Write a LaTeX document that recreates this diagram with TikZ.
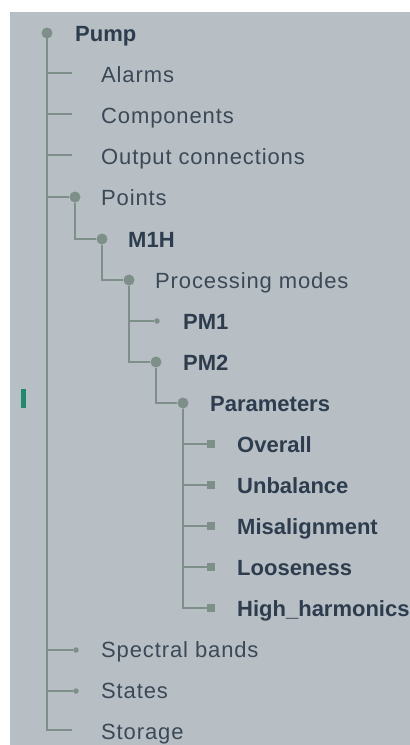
\documentclass[tikz,border=0pt]{standalone}
\usepackage{fontspec}
\setmainfont{Liberation Sans}
\newfontfamily\itemfont[LetterSpace=4]{Liberation Sans}

\definecolor{panel}{HTML}{B7BEC4}
\definecolor{branch}{HTML}{7E8E89}
\definecolor{plain}{HTML}{3B4956}
\definecolor{strong}{HTML}{2D3D4E}
\definecolor{marker}{HTML}{1F8A70}

\tikzset{
  link/.style={draw=branch, line width=1.5pt},
  bigdot/.style={circle, fill=branch, inner sep=0pt, minimum size=11pt},
  smalldot/.style={circle, fill=branch, inner sep=0pt, minimum size=5.5pt},
  sqdot/.style={rectangle, fill=branch, inner sep=0pt, minimum size=7.5pt},
  item/.style={anchor=base west, inner sep=0pt, text=plain,
    font=\itemfont\fontsize{22}{26}\selectfont},
  bolditem/.style={item, text=strong, font=\rmfamily\fontsize{22}{26}\selectfont\bfseries},
}

\begin{document}
\begin{tikzpicture}[x=1pt, y=-1pt]
        % Painel
        \useasboundingbox (0,0) rectangle (410,745);
        \fill[panel] (10,12) rectangle (410,745);
        \fill[marker] (21,389) rectangle (26,408);

        % Ramos
        \coordinate (dAlarms) at (72,73);
        \coordinate (dComponents) at (72,114);
        \coordinate (dOutput) at (72,155);
        \coordinate (dStorage) at (72,730);
        \draw[link] (47,33) coordinate (top) |- (dStorage);
        \foreach \n in {dAlarms, dComponents, dOutput}
          \draw[link] (top) |- (\n);

        % Pontos da arvore
        \node[bigdot] (dPump) at (top) {};
        \node[bigdot] (dPoints) at (75,197) {};
        \node[bigdot] (dMOneH) at (102,239) {};
        \node[bigdot] (dModes) at (129,280) {};
        \node[smalldot] (dPMOne) at (157,321) {};
        \node[bigdot] (dPMTwo) at (156,362) {};
        \node[bigdot] (dParams) at (183,403) {};
        \node[sqdot] (dOverall) at (211,444) {};
        \node[sqdot] (dUnbalance) at (211,485) {};
        \node[sqdot] (dMisalign) at (211,526) {};
        \node[sqdot] (dLoose) at (211,567) {};
        \node[sqdot] (dHigh) at (211,608) {};
        \node[smalldot] (dSpectral) at (76,650) {};
        \node[smalldot] (dStates) at (76,691) {};

        \foreach \n in {dPoints, dSpectral, dStates}
          \draw[link] (top) |- (\n);
        \draw[link] (dPoints) |- (dMOneH);
        \draw[link] (dMOneH) |- (dModes);
        \draw[link] (dModes) |- (dPMOne);
        \draw[link] (dModes) |- (dPMTwo);
        \draw[link] (dPMTwo) |- (dParams);
        \foreach \n in {dOverall, dUnbalance, dMisalign, dLoose, dHigh}
          \draw[link] (dParams) |- (\n);

        % Rotulos
        \node[bolditem] (pump) at (75,41) {Pump};
        \node[item] (alarms) at (101,82) {Alarms};
        \node[item] (components) at (101,123) {Components};
        \node[item] (output) at (101,164) {Output connections};
        \node[item] (points) at (101,205) {Points};
        \node[bolditem] (mOneH) at (128,247) {M1H};
        \node[item] (modes) at (155,288) {Processing modes};
        \node[bolditem] (pmOne) at (183,329) {PM1};
        \node[bolditem] (pmTwo) at (183,370) {PM2};
        \node[bolditem] (params) at (210,411) {Parameters};
        \node[bolditem] (overall) at (237,452) {Overall};
        \node[bolditem] (unbalance) at (237,493) {Unbalance};
        \node[bolditem] (misalign) at (237,534) {Misalignment};
        \node[bolditem] (loose) at (237,575) {Looseness};
        \node[bolditem] (high) at (237,616) {High\_harmonics};
        \node[item] (spectral) at (101,657) {Spectral bands};
        \node[item] (states) at (101,698) {States};
        \node[item] (storage) at (101,739) {Storage};
\end{tikzpicture}
\end{document}
